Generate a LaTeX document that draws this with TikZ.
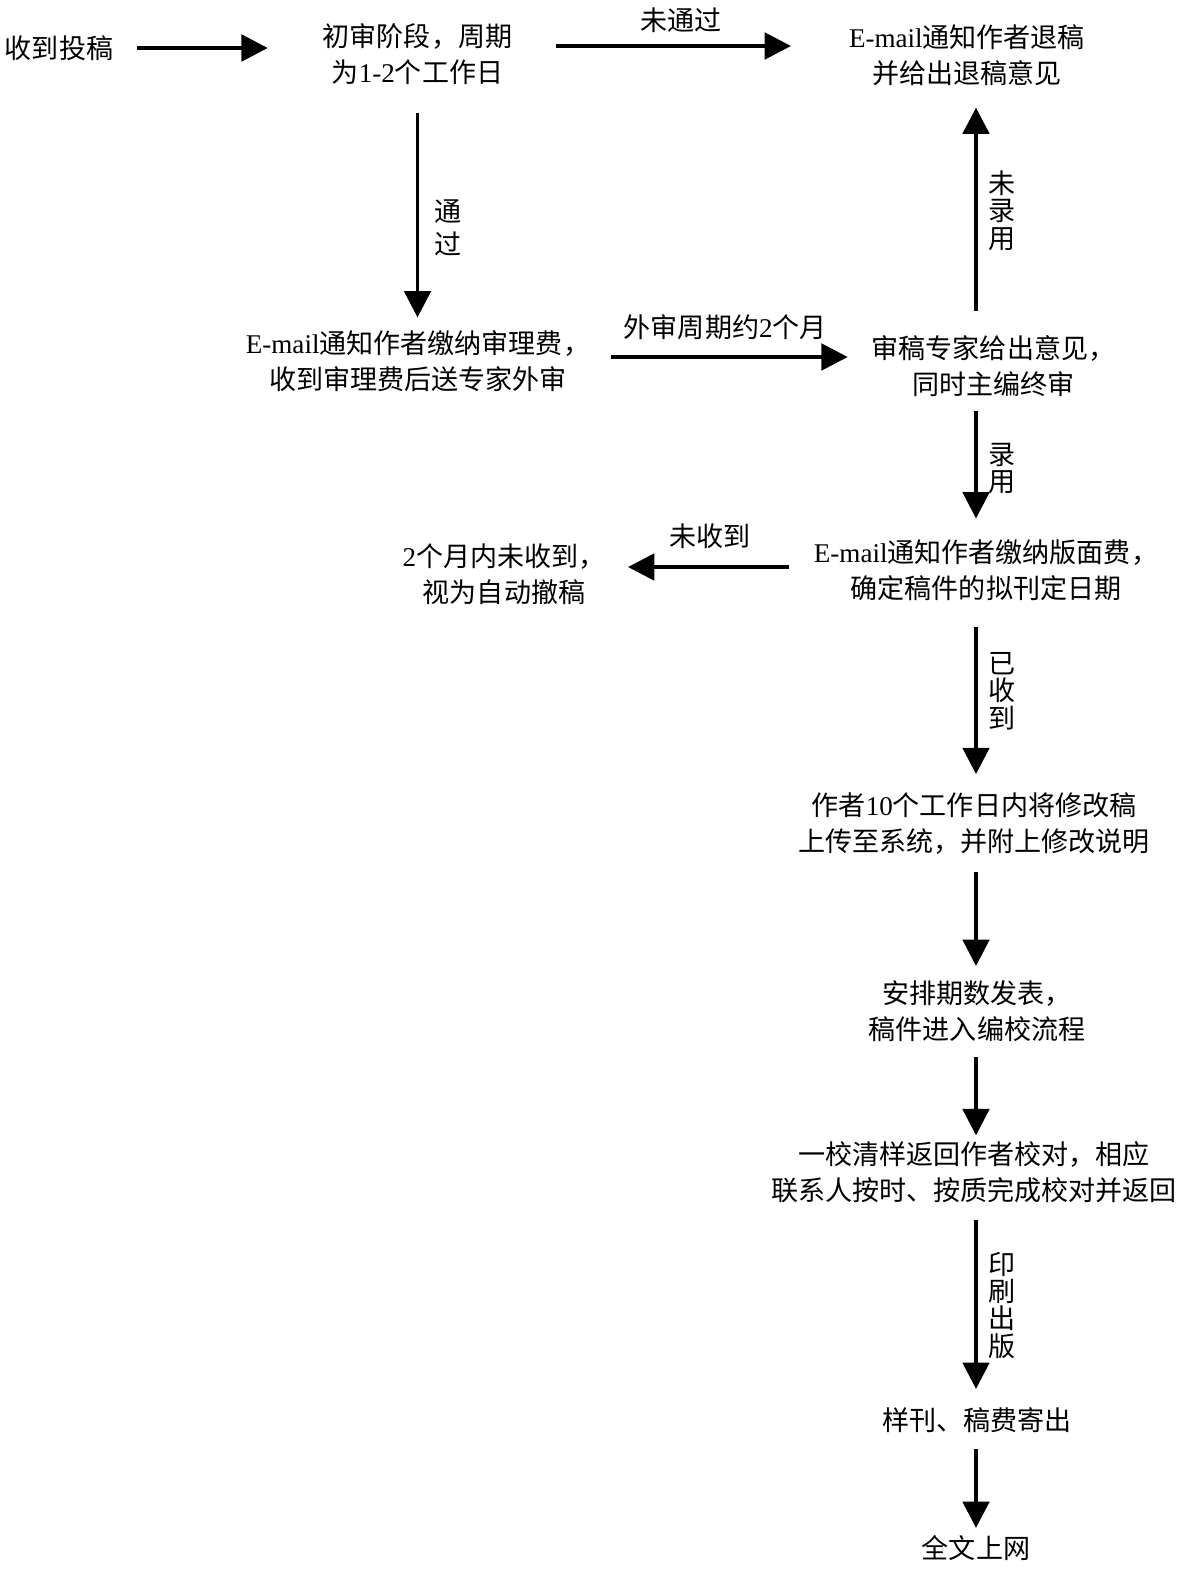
\documentclass[tikz,border=0pt]{standalone}
\usepackage{fontspec}
\setmainfont{Noto Sans CJK SC}
\newfontfamily\latin{Liberation Serif}
\usetikzlibrary{arrows.meta,positioning}

\begin{document}
\begin{tikzpicture}[x=0.02cm, y=0.02cm, >={Triangle[length=15pt,width=15pt]},
  every node/.style={inner sep=0pt, outer sep=0pt},
  box/.style={align=center, font=\fontsize{15.4}{20.5}\selectfont},
  tag/.style={align=center, font=\fontsize{15.4}{15.6}\selectfont},
  link/.style={->, line width=2.2pt}]

\useasboundingbox (0,0) rectangle (1188,-1575);
\coordinate (col) at (976,0);

\node [box] (recv) at (59,-48) {收到投稿};
\node [box] (first) at (417.5,-54.5) {初审阶段，周期\\为{\latin 1-2}个工作日};
\node [box] (reject) at (967,-55.5) {{\latin E-mail}通知作者退稿\\并给出退稿意见};
\node [box] (fee) at (418,-361.5) {{\latin E-mail}通知作者缴纳审理费，\\收到审理费后送专家外审};
\node [box] (expert) at (993.5,-366) {审稿专家给出意见，\\同时主编终审};
\node [box] (withdraw) at (504,-574) {{\latin 2}个月内未收到，\\视为自动撤稿};
\node [box] (page) at (986,-570.5) {{\latin E-mail}通知作者缴纳版面费，\\确定稿件的拟刊定日期};
\node [box] (revise) at (974,-823.5) {作者{\latin 10}个工作日内将修改稿\\上传至系统，并附上修改说明};
\node [box] (arrange) at (977,-1011) {安排期数发表，\\稿件进入编校流程};
\node [box] (proof) at (974,-1172.5) {一校清样返回作者校对，相应\\联系人按时、按质完成校对并返回};
\node [box] (sample) at (977,-1420) {样刊、稿费寄出};
\node [box] (online) at (976,-1548) {全文上网};

% first review
\draw [link, shorten <=0.48cm, shorten >=1.1cm] (recv) -- (recv -| first.west);
\draw [link, shorten <=0.88cm, shorten >=1.16cm] ([yshift=0.17cm]first.east) -- ([yshift=0.17cm]first.east -| reject.west)
  node [tag, above=0.27cm, midway] {未通过};
\draw [link, shorten <=0.55cm, shorten >=0.27cm] (first) -- (first |- fee.north)
  node [tag, right=0.34cm, pos=0.58] {通\\[3pt]过};

% external review
\draw [link, shorten <=0.42cm, shorten >=0.48cm] ([yshift=0.09cm]fee.east) -- ([yshift=0.09cm]fee.east -| expert.west)
  node [tag, above=0.35cm, pos=0.48] {外审周期约{\latin 2}个月};
\draw [link, shorten <=0.49cm, shorten >=0.43cm] (expert.north -| col) -- (reject.south -| col)
  node [tag, right=0.25cm, midway] {未\\录\\用};
\draw [link, shorten <=0.29cm, shorten >=0.43cm] (expert.south -| col) -- (page.north -| col)
  node [tag, right=0.25cm, midway] {录\\用};

% page fee
\draw [link, shorten <=0.5cm, shorten >=0.45cm] ([yshift=0.07cm]page.west) -- ([yshift=0.07cm]page.west -| withdraw.east)
  node [tag, above=0.37cm, midway] {未收到};
\draw [link, shorten <=0.51cm, shorten >=0.37cm] (page.south -| col) -- (revise.north -| col)
  node [tag, right=0.25cm, pos=0.47] {已\\收\\到};

% publishing
\foreach \a/\b/\s/\e in {revise/arrange/0.35cm/0.29cm, arrange/proof/0.31cm/0.13cm, sample/online/0.33cm/0.15cm}
  \draw [link, shorten <=\s, shorten >=\e] (\a.south -| col) -- (\b.north -| col);
\draw [link, shorten <=0.33cm, shorten >=0.37cm] (proof.south -| col) -- (sample.north -| col)
  node [tag, right=0.25cm, midway] {印\\刷\\出\\版};

\end{tikzpicture}
\end{document}
